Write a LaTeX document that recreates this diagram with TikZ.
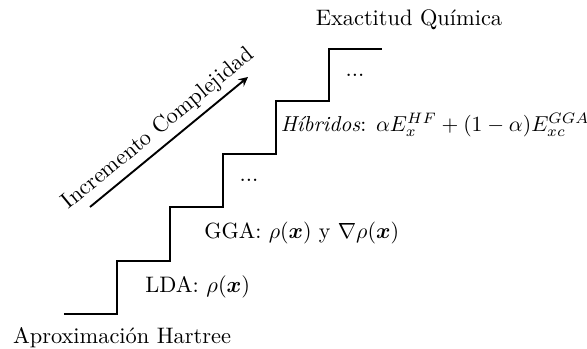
\documentclass[tikz,border=0pt]{standalone}
\usepackage{fontspec}
\usepackage{amsmath}
\usepackage{bm}
\begin{document}
\begin{tikzpicture}[x=0.4464pt,y=-0.4464pt,
  stair/.style={line width=0.85pt},
  lbl/.style={inner sep=0pt,anchor=west},
  ttl/.style={inner sep=0pt}]
\useasboundingbox (0,0) rectangle (587,349);
% staircase
\coordinate (s0) at (64,314);
\coordinate (s1) at (117,314);
\coordinate (s2) at (117,261);
\coordinate (s3) at (170,261);
\coordinate (s4) at (170,207);
\coordinate (s5) at (223,207);
\coordinate (s6) at (223,154);
\coordinate (s7) at (276,154);
\coordinate (s8) at (276,101);
\coordinate (s9) at (329,101);
\coordinate (s10) at (329,49);
\coordinate (s11) at (382,49);
\draw[stair] (s0) -- (s1) -- (s2) -- (s3) -- (s4) -- (s5) -- (s6) -- (s7) -- (s8) -- (s9) -- (s10) -- (s11);
% labels
\node[ttl] (hf) at (122,338) {Aproximación Hartree};
\node[ttl] (qc) at (409,20) {Exactitud Química};
\node[lbl] (lda) at (145,287) {LDA: $\rho(\bm{x})$};
\node[lbl,scale=0.98] (gga) at (204,233) {GGA: $\rho(\bm{x})$ y $\nabla\rho(\bm{x})$};
\node[ttl] (d1) at (249,180) {...};
\node[lbl,scale=0.965] (hyb) at (280.5,125) {\textit{Híbridos}: $\alpha E_x^{HF}+(1-\alpha)E_{xc}^{GGA}$};
\node[ttl] (d2) at (355,75) {...};
% arrow
\coordinate (a0) at (90,207);
\coordinate (a1) at (248,77);
\draw[-stealth,line width=0.85pt] (a0) -- node[above=2.5pt,sloped,inner sep=0pt] (inc) {Incremento Complejidad} (a1);
\end{tikzpicture}
\end{document}
